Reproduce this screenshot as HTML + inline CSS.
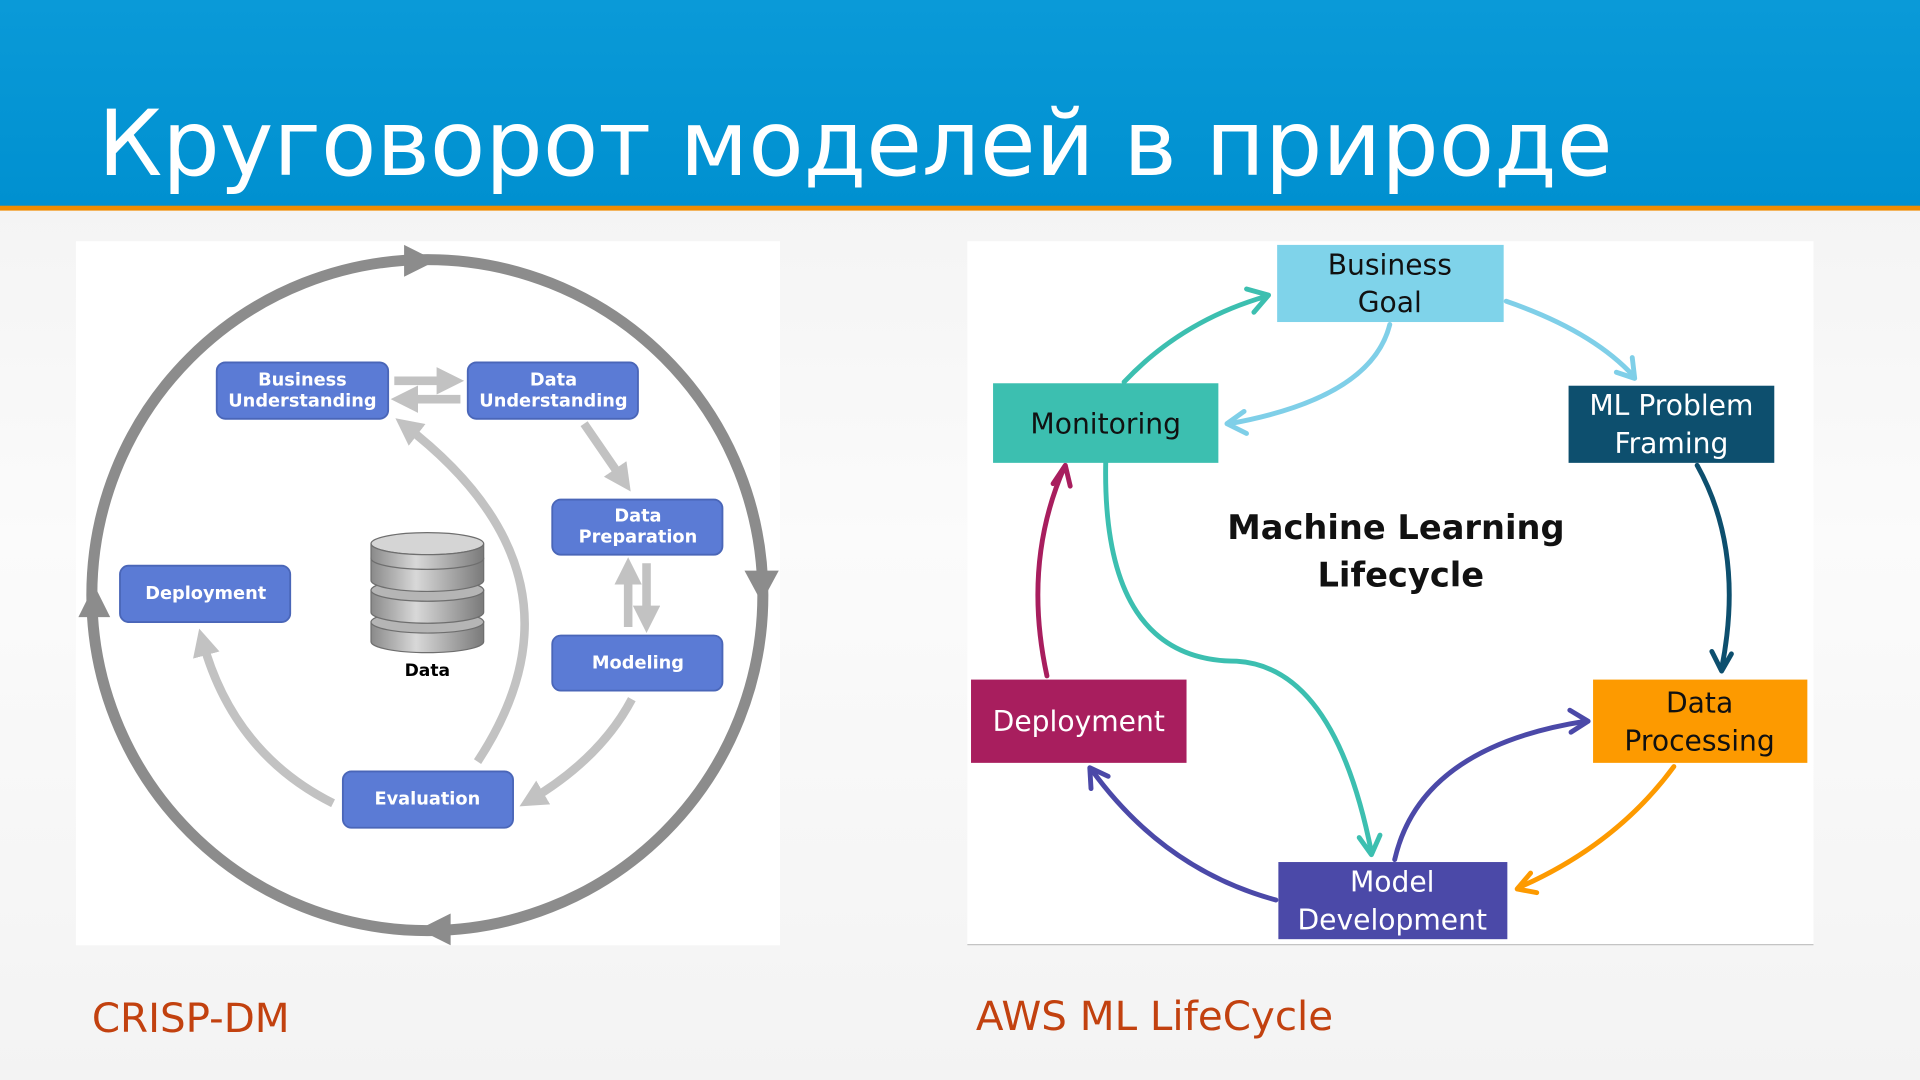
<!DOCTYPE html>
<html><head><meta charset="utf-8"><style>
html,body{margin:0;padding:0;width:1920px;height:1080px;overflow:hidden;background:#f6f6f6}
svg{display:block}
text{font-family:"DejaVu Sans","Liberation Sans",sans-serif}
</style></head><body>
<svg width="1920" height="1080" viewBox="0 0 1568 882" xmlns="http://www.w3.org/2000/svg">
<defs>
<linearGradient id="hd" x1="0" y1="0" x2="0" y2="1"><stop offset="0" stop-color="#0a9ad8"/><stop offset="1" stop-color="#0090d0"/></linearGradient>
<linearGradient id="bg" x1="0" y1="0" x2="0" y2="1"><stop offset="0" stop-color="#f0f0f0"/><stop offset="0.5" stop-color="#fbfbfb"/><stop offset="1" stop-color="#f3f3f3"/></linearGradient>
<linearGradient id="cyl" x1="0" y1="0" x2="1" y2="0"><stop offset="0" stop-color="#8a8a8a"/><stop offset="0.4" stop-color="#d8d8d8"/><stop offset="1" stop-color="#7a7a7a"/></linearGradient>
<marker id="ag" viewBox="0 0 10 10" refX="6" refY="5" markerWidth="3.2" markerHeight="3.2" orient="auto"><path d="M0,0L10,5L0,10z" fill="#c2c2c2"/></marker>
</defs>
<rect width="1568" height="882" fill="url(#bg)"/>
<rect width="1568" height="169" fill="url(#hd)"/>
<rect y="168" width="1568" height="4" fill="#f08c00"/>
<text x="80" y="143" font-size="74" fill="#fff">Круговорот моделей в природе</text>

<rect x="62" y="197" width="575" height="575" fill="#fff"/>
<circle cx="349" cy="486" r="274" fill="none" stroke="#8c8c8c" stroke-width="9"/>
<path d="M330,200 L356,213 L330,226z" fill="#8c8c8c"/>
<path d="M608,466 L622,492 L636,466z" fill="#8c8c8c"/>
<path d="M368,746 L342,759 L368,772z" fill="#8c8c8c"/>
<path d="M64,504 L77,478 L90,504z" fill="#8c8c8c"/>

<g stroke="#c2c2c2" stroke-width="7" fill="none" marker-end="url(#ag)">
<path d="M322,311 L370,311"/>
<path d="M376,326 L328,326"/>
<path d="M477,346 L510,394"/>
<path d="M513,512 L513,464"/>
<path d="M528,460 L528,508"/>
<path d="M516,571 Q490,620 432,654"/>
<path d="M390,622 Q490,470 330,347"/>
<path d="M272,656 Q190,615 165,522"/>
</g>

<g stroke="#4a66b8" stroke-width="1.5" fill="#5b7bd5">
<rect x="177" y="296" width="140" height="46" rx="7"/>
<rect x="382" y="296" width="139" height="46" rx="7"/>
<rect x="451" y="408" width="139" height="45" rx="7"/>
<rect x="451" y="519" width="139" height="45" rx="7"/>
<rect x="280" y="630" width="139" height="46" rx="7"/>
<rect x="98" y="462" width="139" height="46" rx="7"/>
</g>
<g fill="#fff" font-size="14.5" font-weight="bold" text-anchor="middle">
<text x="247" y="315">Business</text><text x="247" y="332">Understanding</text>
<text x="452" y="315">Data</text><text x="452" y="332">Understanding</text>
<text x="521" y="426">Data</text><text x="521" y="443">Preparation</text>
<text x="521" y="546">Modeling</text>
<text x="349" y="657">Evaluation</text>
<text x="168" y="489">Deployment</text>
</g>
<g stroke="#6e6e6e" stroke-width="1">
<path d="M303,508 v16 a46,9 0 0 0 92,0 v-16z" fill="url(#cyl)"/>
<ellipse cx="349" cy="508" rx="46" ry="9" fill="#b5b5b5"/>
<path d="M303,482 v18 a46,9 0 0 0 92,0 v-18z" fill="url(#cyl)"/>
<ellipse cx="349" cy="482" rx="46" ry="9" fill="#b5b5b5"/>
<path d="M303,456 v18 a46,9 0 0 0 92,0 v-18z" fill="url(#cyl)"/>
<ellipse cx="349" cy="444" rx="46" ry="9" fill="#d5d5d5"/>
<path d="M303,444 v12 a46,9 0 0 0 92,0 v-12 a46,9 0 0 1 -92,0z" fill="url(#cyl)"/>
</g>
<text x="349" y="552" font-size="14" font-weight="bold" text-anchor="middle" fill="#000">Data</text>

<rect x="790" y="197" width="691" height="575" fill="#fff"/>
<line x1="790" y1="771.5" x2="1481" y2="771.5" stroke="#bbb" stroke-width="1"/>

<g fill="none" stroke-width="4" stroke-linecap="round" stroke-linejoin="round">
<path d="M918,312 Q965,262 1034,242" stroke="#3cbfb0"/><path d="M1018,236 L1036,241 L1024,255" stroke="#3cbfb0"/>
<path d="M1135,265 Q1120,325 1004,346" stroke="#7fcfe8"/><path d="M1016,336 L1002,346 L1018,354" stroke="#7fcfe8"/>
<path d="M1230,246 Q1300,270 1334,307" stroke="#7fcfe8"/><path d="M1320,304 L1335,309 L1333,292" stroke="#7fcfe8"/>
<path d="M1386,380 Q1425,450 1406,546" stroke="#0d4f6e"/><path d="M1398,532 L1406,548 L1414,534" stroke="#0d4f6e"/>
<path d="M1367,626 Q1320,690 1240,725" stroke="#fd9a00"/><path d="M1250,713 L1239,726 L1255,729" stroke="#fd9a00"/>
<path d="M1139,702 Q1160,610 1295,589" stroke="#4b49a8"/><path d="M1282,580 L1297,589 L1283,598" stroke="#4b49a8"/>
<path d="M903,378 Q900,540 1010,540 Q1090,545 1120,696" stroke="#3cbfb0"/><path d="M1110,684 L1120,698 L1127,682" stroke="#3cbfb0"/>
<path d="M1042,735 Q950,710 891,628" stroke="#4b49a8"/><path d="M891,644 L890,627 L905,634" stroke="#4b49a8"/>
<path d="M855,552 Q835,460 869,382" stroke="#a81e5e"/><path d="M860,395 L870,380 L874,397" stroke="#a81e5e"/>
</g>

<rect x="1043" y="200" width="185" height="63" fill="#7fd3ea"/>
<rect x="811" y="313" width="184" height="65" fill="#3cbfb0"/>
<rect x="1281" y="315" width="168" height="63" fill="#0d4f6e"/>
<rect x="1301" y="555" width="175" height="68" fill="#fd9a00"/>
<rect x="1044" y="704" width="187" height="63" fill="#4b49a8"/>
<rect x="793" y="555" width="176" height="68" fill="#a81e5e"/>
<g font-size="23" text-anchor="middle">
<text x="1135" y="224" fill="#111">Business</text><text x="1135" y="255" fill="#111">Goal</text>
<text x="903" y="354" fill="#111">Monitoring</text>
<text x="1365" y="339" fill="#fff">ML Problem</text><text x="1365" y="370" fill="#fff">Framing</text>
<text x="1388" y="582" fill="#111">Data</text><text x="1388" y="613" fill="#111">Processing</text>
<text x="1137" y="728" fill="#fff">Model</text><text x="1137" y="759" fill="#fff">Development</text>
<text x="881" y="597" fill="#fff">Deployment</text>
</g>
<g font-size="27.5" font-weight="bold" text-anchor="middle" fill="#111">
<text x="1140" y="440">Machine Learning</text><text x="1144" y="479">Lifecycle</text>
</g>

<text x="75" y="843" font-size="33" fill="#c2410f">CRISP-DM</text>
<text x="797" y="841" font-size="33" fill="#c2410f">AWS ML LifeCycle</text>
</svg>
</body></html>
